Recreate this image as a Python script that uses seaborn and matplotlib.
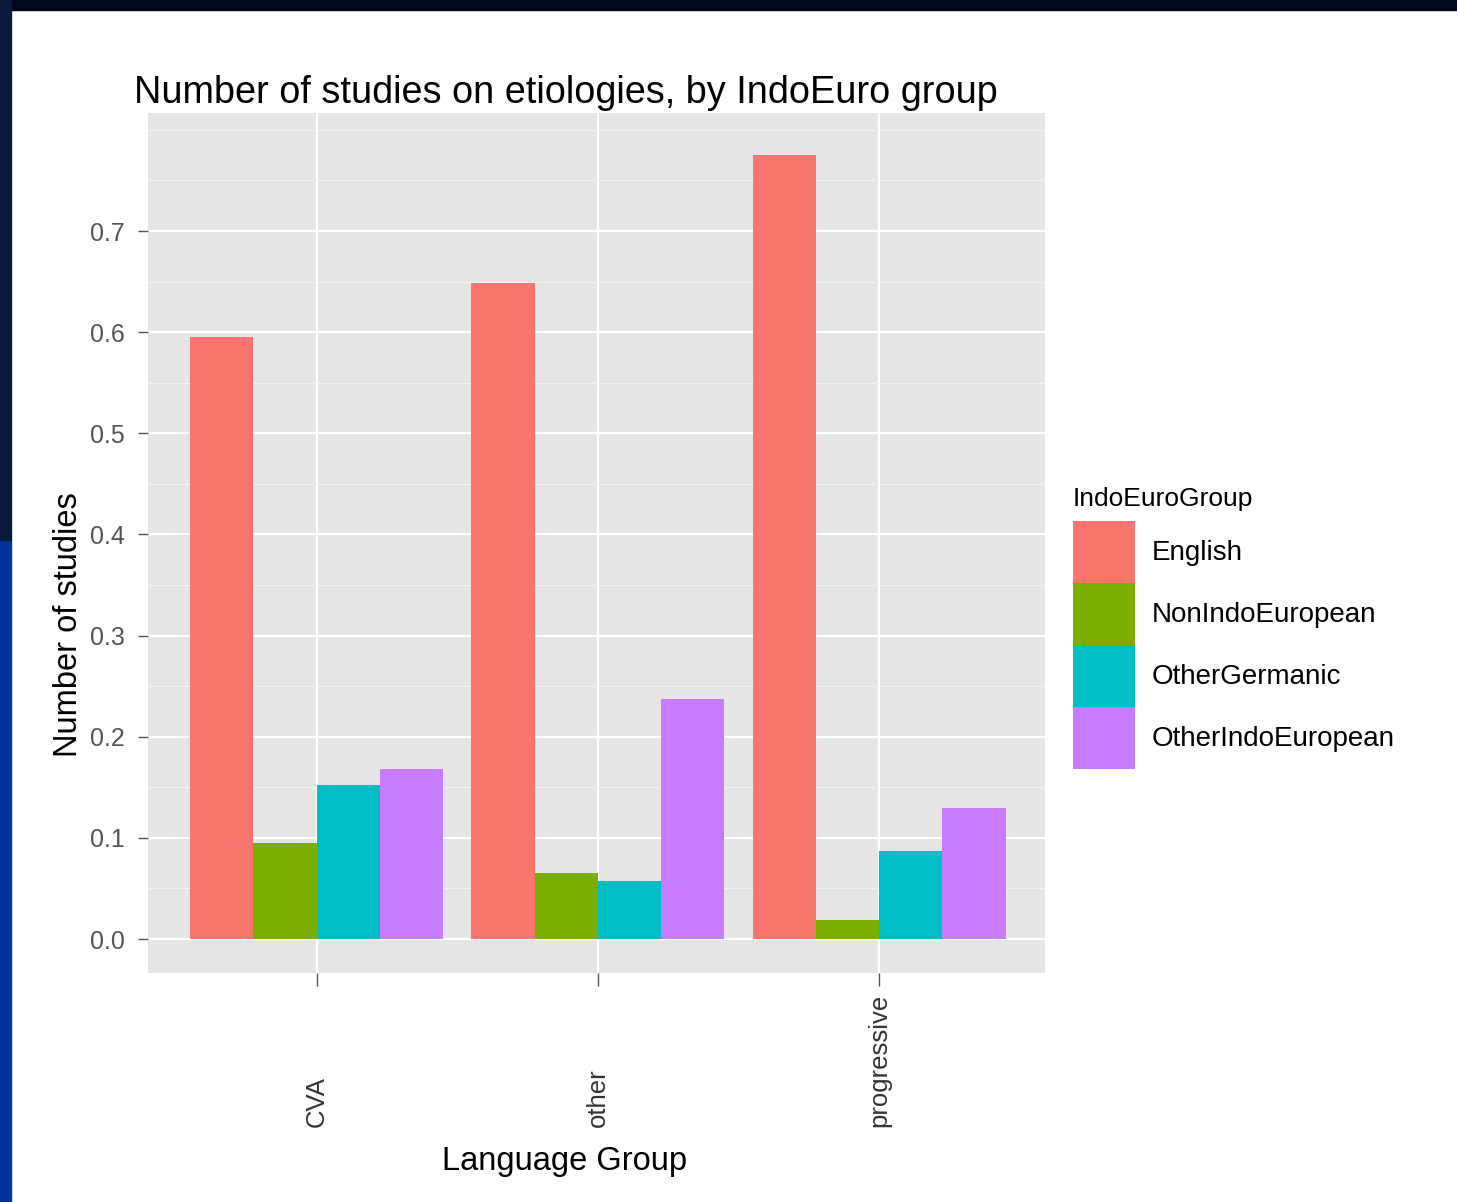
import matplotlib
matplotlib.use("Agg")
import matplotlib.pyplot as plt
import seaborn as sns
import pandas as pd
from matplotlib.patches import Rectangle
from matplotlib.ticker import MultipleLocator

# ---- data ----
etiologies = ["CVA", "other", "progressive"]
groups = ["English", "NonIndoEuropean", "OtherGermanic", "OtherIndoEuropean"]
english = [0.595, 0.649, 0.775]
non_indo_european = [0.095, 0.065, 0.019]
other_germanic = [0.152, 0.057, 0.087]
other_indo_european = [0.168, 0.237, 0.130]
colors = ["#F8766D", "#7CAE00", "#00BFC4", "#C77CFF"]

title = "Number of studies on etiologies, by IndoEuro group"
xlabel = "Language Group"
ylabel = "Number of studies"
legend_title = "IndoEuroGroup"

series = [english, non_indo_european, other_germanic, other_indo_european]
rows = []
for g, vals in zip(groups, series):
    for e, v in zip(etiologies, vals):
        rows.append({"etiology": e, "group": g, "value": v})
df = pd.DataFrame(rows)

sns.set_theme(style="white")
plt.rcParams["font.family"] = ["Liberation Sans", "DejaVu Sans"]
plt.rcParams["text.color"] = "black"

W, H = 1457, 1202
fig = plt.figure(figsize=(W / 100, H / 100), dpi=100, facecolor="white")

# slide border
fig.patches.append(Rectangle((0, 1 - 10 / H), 1, 10 / H, transform=fig.transFigure,
                             color="#00081e", zorder=0))
fig.patches.append(Rectangle((0, 0), 11 / W, 1 - 540 / H, transform=fig.transFigure,
                             color="#00339c", zorder=0))
fig.patches.append(Rectangle((0, 1 - 540 / H), 11 / W, 540 / H, transform=fig.transFigure,
                             color="#071a3e", zorder=0))

px_l, px_r, px_t, px_b = 148, 1045, 113, 973
ax = fig.add_axes([px_l / W, 1 - px_b / H, (px_r - px_l) / W, (px_b - px_t) / H])
ax.set_facecolor("#E5E5E5")

sns.barplot(data=df, x="etiology", y="value", hue="group", hue_order=groups,
            order=etiologies, palette=colors, width=0.9, gap=0, saturation=1,
            linewidth=0, edgecolor="none", ax=ax, legend=True)

ax.set_xlim(-0.6, 2.59)
ax.set_ylim(-0.0336, 0.8167)
ax.yaxis.set_major_locator(MultipleLocator(0.1))
ax.yaxis.set_minor_locator(MultipleLocator(0.05))
ax.set_axisbelow(True)
ax.grid(True, which="major", axis="both", color="white", linewidth=1.6)
ax.grid(True, which="minor", axis="y", color="#F2F2F2", linewidth=0.8)
for s in ax.spines.values():
    s.set_visible(False)

ax.tick_params(axis="y", which="major", length=7, width=1, color="#555555",
               labelsize=18, labelcolor="#555555", pad=9.5, left=True)
ax.tick_params(axis="y", which="minor", length=0)
ax.tick_params(axis="x", which="major", length=9, width=1, color="#555555",
               labelsize=18.5, labelcolor="#333333", pad=102, bottom=True)
ax.set_yticks([0.0, 0.1, 0.2, 0.3, 0.4, 0.5, 0.6, 0.7])
ax.set_yticklabels(["0.0", "0.1", "0.2", "0.3", "0.4", "0.5", "0.6", "0.7"])
plt.setp(ax.get_xticklabels(), rotation=90, va="bottom", ha="center")

ax.set_xlabel(xlabel, fontsize=23.5, color="black")
ax.set_ylabel(ylabel, fontsize=23.5, color="black")
ax.xaxis.set_label_coords((565 - px_l) / (px_r - px_l), (px_b - 1146) / (px_b - px_t))
ax.yaxis.set_label_coords((84 - px_l) / (px_r - px_l), (px_b - 625) / (px_b - px_t))

ax.set_title(title, fontsize=27.3, loc="left", x=(134 - px_l) / (px_r - px_l), pad=7,
             color="black")

handles, labels = ax.get_legend_handles_labels()
ax.get_legend().remove()
fs = 20
key_pt = 62 * 0.72  # key size in points
leg = fig.legend(handles, labels, title=legend_title, loc="upper left",
                 bbox_to_anchor=(1073 / W, 1 - 487 / H), frameon=False,
                 fontsize=fs, title_fontsize=19, handlelength=key_pt / fs,
                 handleheight=(key_pt / fs - 0.245) / 0.65, labelspacing=0,
                 handletextpad=0.6, borderpad=0, borderaxespad=0,
                 labelcolor="black")
leg.get_title().set_color("black")
leg._legend_box.align = "left"
leg._legend_box.sep = 7
for h in leg.legend_handles:
    h.set_edgecolor("none")
    h.set_linewidth(0)

fig.savefig("out.png", dpi=100, facecolor="white")
